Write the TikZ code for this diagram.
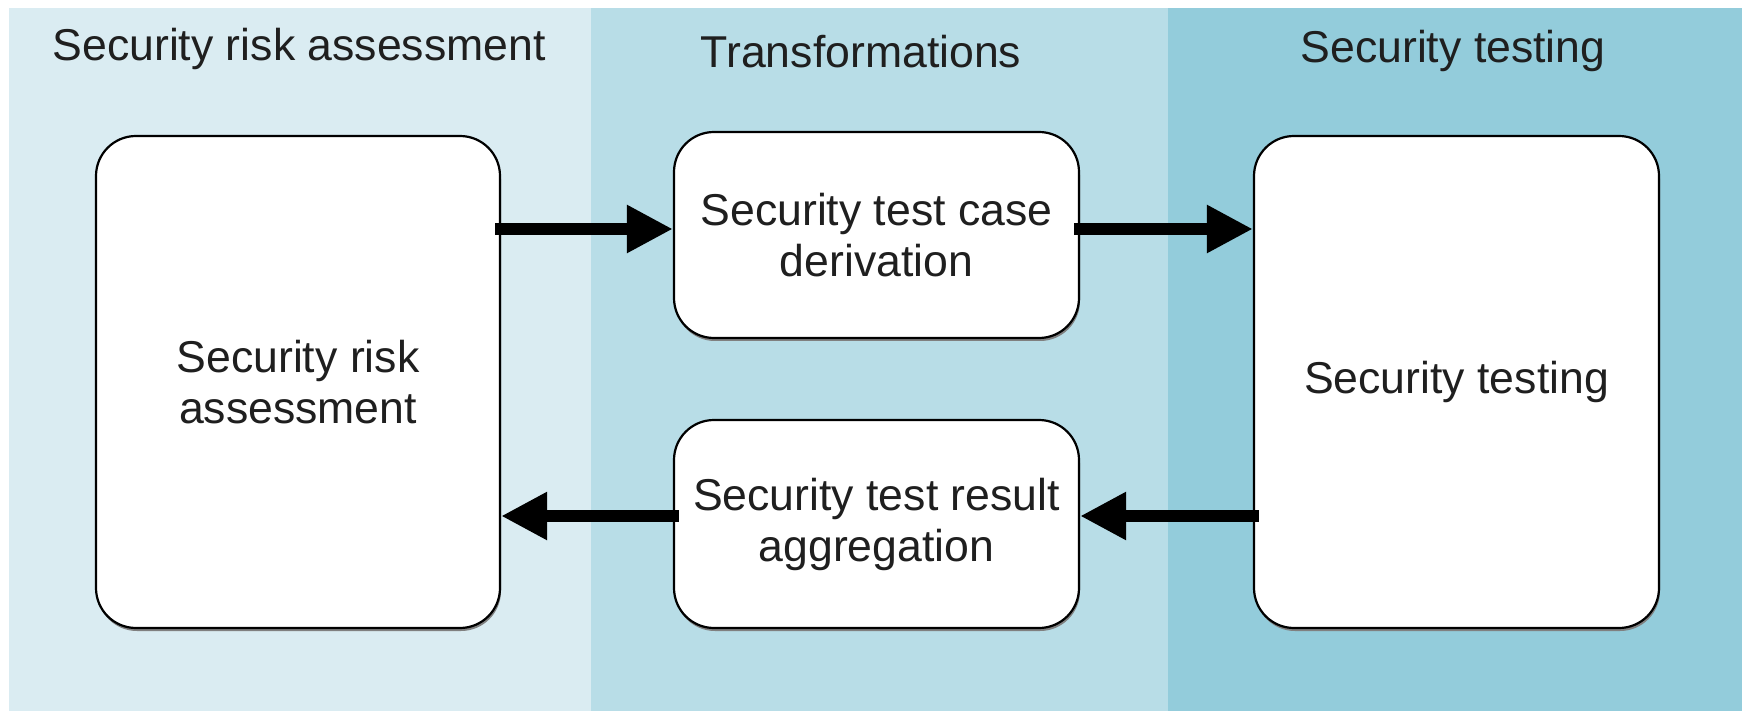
\documentclass[tikz,border=0pt]{standalone}
\usepackage{fontspec}
\setmainfont{Liberation Sans}
\usetikzlibrary{arrows.meta,shadows}
\definecolor{laneA}{RGB}{218,236,242}
\definecolor{laneB}{RGB}{184,221,231}
\definecolor{laneC}{RGB}{147,204,219}
\begin{document}
\begin{tikzpicture}[x=1pt,y=-1pt,
  txt/.style={font=\fontsize{44.6}{51}\selectfont, text=black!88},
  procbox/.style={txt, draw=black, line width=2.2pt, fill=white,
    rounded corners=40pt, inner sep=0pt, align=center,
    drop shadow={shadow xshift=1pt, shadow yshift=-3pt, fill=black!50, opacity=1}},
  flow/.style={line width=12pt, shorten <=-6pt, -{Triangle[length=46pt,width=45pt]}},
  lanetitle/.style={txt, anchor=base}
]
\useasboundingbox (0,0) rectangle (1749,711);
\fill[white] (0,0) rectangle (1749,711);

% swimlanes
\fill[laneA] (9,8) rectangle (591,711);
\fill[laneB] (591,8) rectangle (1168,711);
\fill[laneC] (1168,8) rectangle (1742,711);

% lane titles
\node[lanetitle, anchor=base west] (h1) at (49,61) {Security risk assessment};
\node[lanetitle] (h2) at (861,68) {Transformations};
\node[lanetitle] (h3) at (1453,63) {Security testing};

% process boxes
\node[procbox, minimum width=404pt, minimum height=492pt] (risk) at (298,382)
  {Security risk\\assessment};
\node[procbox, minimum width=405pt, minimum height=206pt] (derive) at (876.5,235)
  {Security test case\\derivation};
\node[procbox, minimum width=405pt, minimum height=208pt] (aggr) at (876.5,524)
  {Security test result\\aggregation};
\node[procbox, minimum width=405pt, minimum height=492pt] (test) at (1456.5,382)
  {Security testing};

% connectors
\coordinate (upper) at (0,229);
\coordinate (lower) at (0,516);
\draw[flow] (risk.east |- upper) -- (derive.west |- upper);
\draw[flow] (derive.east |- upper) -- (test.west |- upper);
\draw[flow] (test.west |- lower) -- (aggr.east |- lower);
\draw[flow] (aggr.west |- lower) -- (risk.east |- lower);
\end{tikzpicture}
\end{document}
